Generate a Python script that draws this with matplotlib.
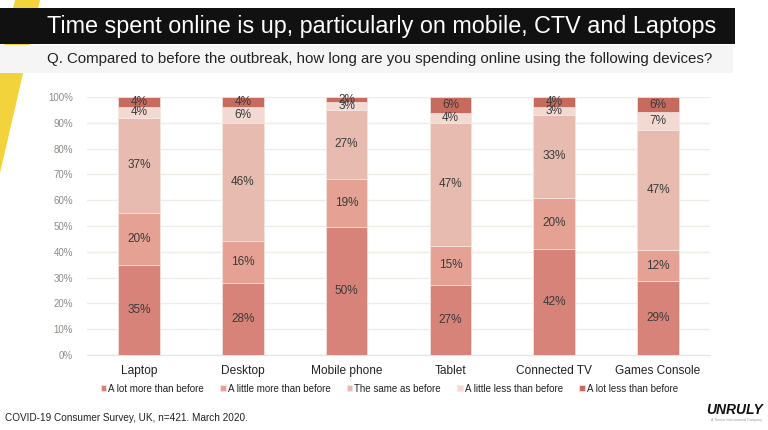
import numpy as np
import matplotlib.pyplot as plt
from matplotlib.patches import Polygon, Rectangle

plt.rcParams['font.family'] = ['Liberation Sans', 'DejaVu Sans']

# данные
devices = ['Laptop', 'Desktop', 'Mobile phone', 'Tablet', 'Connected TV', 'Games Console']
series = ['A lot more than before', 'A little more than before', 'The same as before',
          'A little less than before', 'A lot less than before']
lot_more = [35, 28, 50, 27, 42, 29]
little_more = [20, 16, 19, 15, 20, 12]
same = [37, 46, 27, 47, 33, 47]
little_less = [4, 6, 3, 4, 3, 7]
lot_less = [4, 4, 2, 6, 4, 6]
y_ticks = [0, 10, 20, 30, 40, 50, 60, 70, 80, 90, 100]

colors = ['#D8837A', '#E4A194', '#E7BBAF', '#F2DAD3', '#C86B5F']

W, H = 768, 430
fig = plt.figure(figsize=(W / 100, H / 100), dpi=100)

# фон: жёлтая полоса, чёрная плашка заголовка, серая полоса вопроса
bg = fig.add_axes([0, 0, 1, 1])
bg.set_xlim(0, W)
bg.set_ylim(H, 0)
bg.axis('off')
bg.add_patch(Polygon([(15, 0), (40, 0), (0, 173), (0, 64)], closed=True,
                     color='#F2D33C', lw=0))
bg.add_patch(Rectangle((0, 45), 733, 28, color='#F5F5F5', lw=0))
bg.add_patch(Rectangle((0, 8), 735, 36, color='#111111', lw=0))
bg.text(47, 26, 'Time spent online is up, particularly on mobile, CTV and Laptops',
        color='white', fontsize=16.8, va='center', ha='left')
bg.text(47, 59, 'Q. Compared to before the outbreak, how long are you spending online using the following devices?',
        color='#222222', fontsize=10.8, va='center', ha='left')
bg.text(5, 418, 'COVID-19 Consumer Survey, UK, n=421. March 2020.',
        color='#222222', fontsize=7.2, va='center', ha='left')
bg.text(763, 410, 'UNRULY', color='#111111', fontsize=10, fontweight='bold',
        fontstyle='italic', va='center', ha='right')
bg.text(762, 420, 'A Tremor International Company', color='#999999', fontsize=2.5,
        va='center', ha='right')

ax = fig.add_axes([87 / W, 1 - 355 / H, (710 - 87) / W, (355 - 97) / H])

data = np.array([lot_more, little_more, same, little_less, lot_less], dtype=float)
# столбцы нормированы на 100%
heights = data / data.sum(axis=0) * 100
x = np.arange(len(devices))
bottom = np.zeros(len(devices))
for i in range(len(series)):
    ax.bar(x, heights[i], 0.4, bottom=bottom, color=colors[i], label=series[i],
           edgecolor='#F6E6E2', linewidth=0.5, zorder=3)
    for j in range(len(devices)):
        ax.text(x[j], bottom[j] + heights[i][j] / 2, '%d%%' % data[i][j],
                ha='center', va='center', fontsize=8.5, color='#3A3A3A', zorder=4)
    bottom += heights[i]

ax.set_xlim(-0.5, len(devices) - 0.5)
ax.set_ylim(0, 100)
ax.set_yticks(y_ticks)
ax.set_yticklabels(['%d%%' % v for v in y_ticks], color='#8C8C84', fontsize=7)
ax.set_xticks(x)
ax.set_xticklabels(devices, fontsize=8.6, color='#222222')
ax.tick_params(length=0, pad=10)
ax.tick_params(axis='x', pad=7)
ax.grid(axis='y', color='#EDEDE6', linewidth=1, zorder=0)
for s in ax.spines.values():
    s.set_visible(False)
ax.spines['bottom'].set_visible(True)
ax.spines['bottom'].set_color('#E6E6DE')

ax.legend(loc='center', bbox_to_anchor=(0.485, -0.13), ncol=5, frameon=False,
          fontsize=7, handlelength=0.55, handleheight=0.55, handletextpad=0.2,
          columnspacing=1.7, labelcolor='#222222')

fig.savefig('out.png', dpi=100)
